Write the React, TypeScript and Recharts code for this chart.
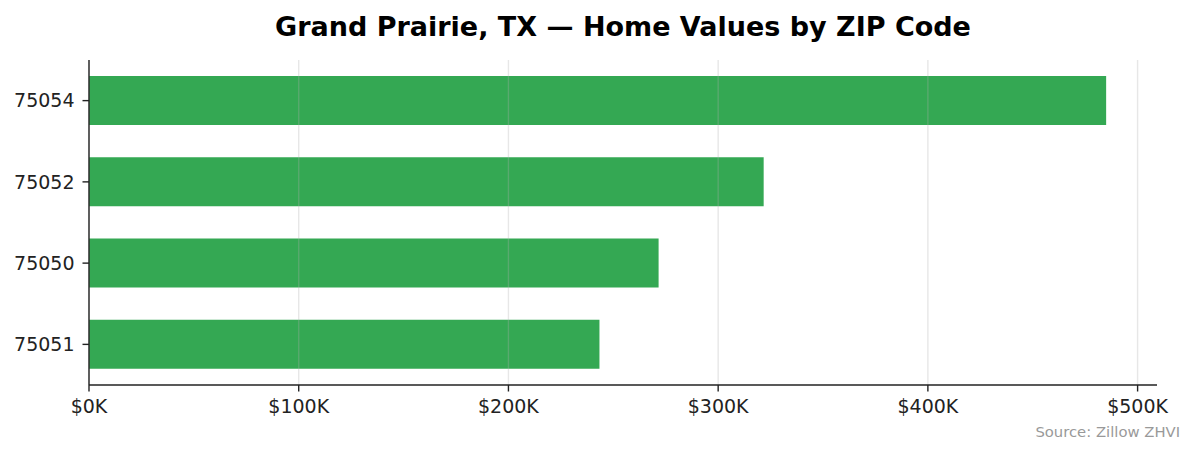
import { Bar, BarChart, XAxis, YAxis, ReferenceLine } from "recharts";

// ZIP codes, top to bottom
const zips = ["75054", "75052", "75050", "75051"];
// typical home value (ZHVI), USD
const homeValues = [485000, 321700, 271600, 243400];
const xTicks = [0, 100000, 200000, 300000, 400000, 500000];

const data = zips.map((zip, i) => ({ zip, value: homeValues[i] }));

const FONT = "'DejaVu Sans', sans-serif";
const INK = "#222222";

export default function App() {
  return (
    <div style={{ position: "absolute", left: 0, top: 0, width: 1195, height: 455, background: "#fff", fontFamily: FONT }}>
      <div
        style={{
          position: "absolute",
          left: 89,
          width: 1068,
          top: 8,
          textAlign: "center",
          fontSize: 27,
          fontWeight: "bold",
          color: "#000",
          lineHeight: "38px",
        }}
      >
        Grand Prairie, TX — Home Values by ZIP Code
      </div>

      <BarChart
        layout="vertical"
        width={1195}
        height={455}
        data={data}
        margin={{ top: 60, right: 38, bottom: 0, left: 0 }}
        barCategoryGap={0}
        style={{ position: "absolute", left: 0, top: 0 }}
      >
        <XAxis
          type="number"
          domain={[0, (max: number) => max * 1.05]}
          ticks={xTicks}
          allowDataOverflow
          tickFormatter={(v) => `$${v / 1000}K`}
          height={70}
          stroke={INK}
          strokeWidth={1.4}
          tickSize={6.5}
          tickMargin={8}
          tick={{ fill: INK, fontSize: 19, fontFamily: FONT }}
        />
        <YAxis
          type="category"
          dataKey="zip"
          width={89}
          stroke={INK}
          strokeWidth={1.4}
          tickSize={6.5}
          tickMargin={8}
          tick={{ fill: INK, fontSize: 19, fontFamily: FONT }}
        />
        <Bar dataKey="value" fill="#34a853" barSize={49} isAnimationActive={false} />
        {xTicks.map((t) => (
          <ReferenceLine key={t} x={t} stroke="#b0b0b0" strokeOpacity={0.3} strokeWidth={1.4} />
        ))}
      </BarChart>

      <div
        style={{
          position: "absolute",
          right: 15,
          top: 423,
          fontSize: 14.8,
          color: "#999999",
          lineHeight: "18px",
        }}
      >
        Source: Zillow ZHVI
      </div>
    </div>
  );
}
